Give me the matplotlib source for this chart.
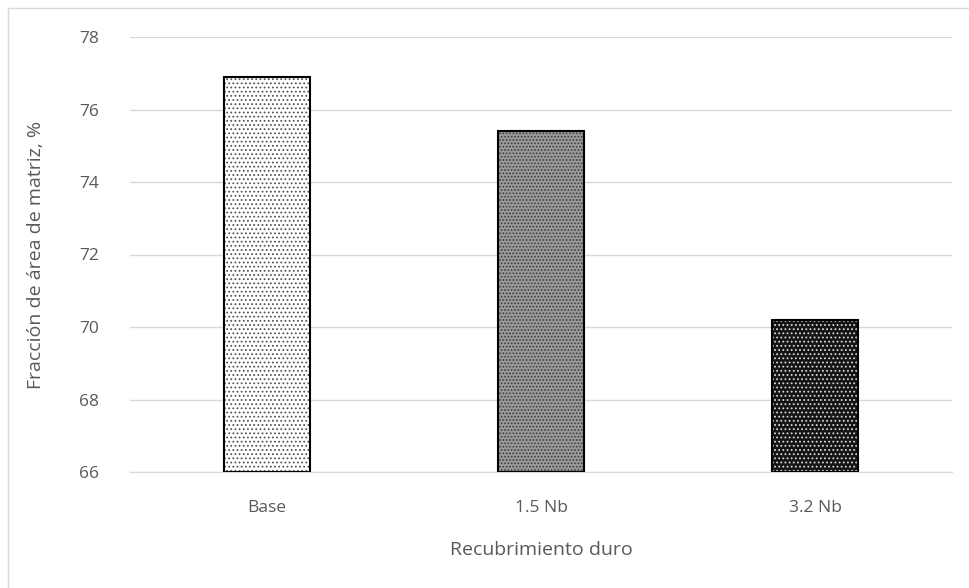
import matplotlib.pyplot as plt
from matplotlib.patches import Rectangle

categories = ["Base", "1.5 Nb", "3.2 Nb"]
values = [76.9, 75.4, 70.2]
face_colors = ["white", "#9a9a9a", "#151515"]
hatch_colors = ["#555555", "#3a3a3a", "#d8d8d8"]
hatches = ["....", ".....", "...."]

plt.rcParams["font.family"] = ["Open Sans", "DejaVu Sans"]
plt.rcParams["hatch.linewidth"] = 0.8
text_color = "#595959"

fig = plt.figure(figsize=(9.7, 5.88), dpi=100)
ax = fig.add_axes([130 / 970, 1 - 472 / 588, 822 / 970, 435 / 588])

x = range(len(categories))
heights = [v - 66 for v in values]
# base bars
ax.bar(x, heights, bottom=66, width=0.315,
       color=face_colors, edgecolor="none", zorder=2)
# hatch overlay
for i, h in enumerate(heights):
    ax.bar(i, h, bottom=66, width=0.315, color="none",
           edgecolor=hatch_colors[i], hatch=hatches[i], linewidth=0, zorder=3)
# outline
ax.bar(x, heights, bottom=66, width=0.315,
       color="none", edgecolor="black", linewidth=1.5, zorder=4)

ax.set_xlim(-0.5, 2.5)
ax.set_ylim(66, 78)
ax.set_yticks(range(66, 79, 2))
ax.set_xticks(list(x))
ax.set_xticklabels(categories)
ax.yaxis.grid(True, color="#d9d9d9", linewidth=1, zorder=0)
ax.set_axisbelow(True)
for s in ["top", "right", "left"]:
    ax.spines[s].set_visible(False)
ax.spines["bottom"].set_color("#d9d9d9")
ax.tick_params(axis="both", length=0, colors=text_color, labelsize=12.5)
ax.tick_params(axis="y", pad=22)
ax.tick_params(axis="x", pad=20)
ax.set_ylabel("Fracción de área de matriz, %", color=text_color, fontsize=14)
ax.yaxis.set_label_coords((45 - 130) / 822, 0.5)
ax.set_xlabel("Recubrimiento duro", color=text_color, fontsize=14, labelpad=18)

fig.patches.append(Rectangle((8 / 970, -0.1), 1.2, 1.1 - 8 / 588,
                             transform=fig.transFigure, fill=False,
                             edgecolor="#d9d9d9", linewidth=1))

fig.savefig("out.png", dpi=100)
